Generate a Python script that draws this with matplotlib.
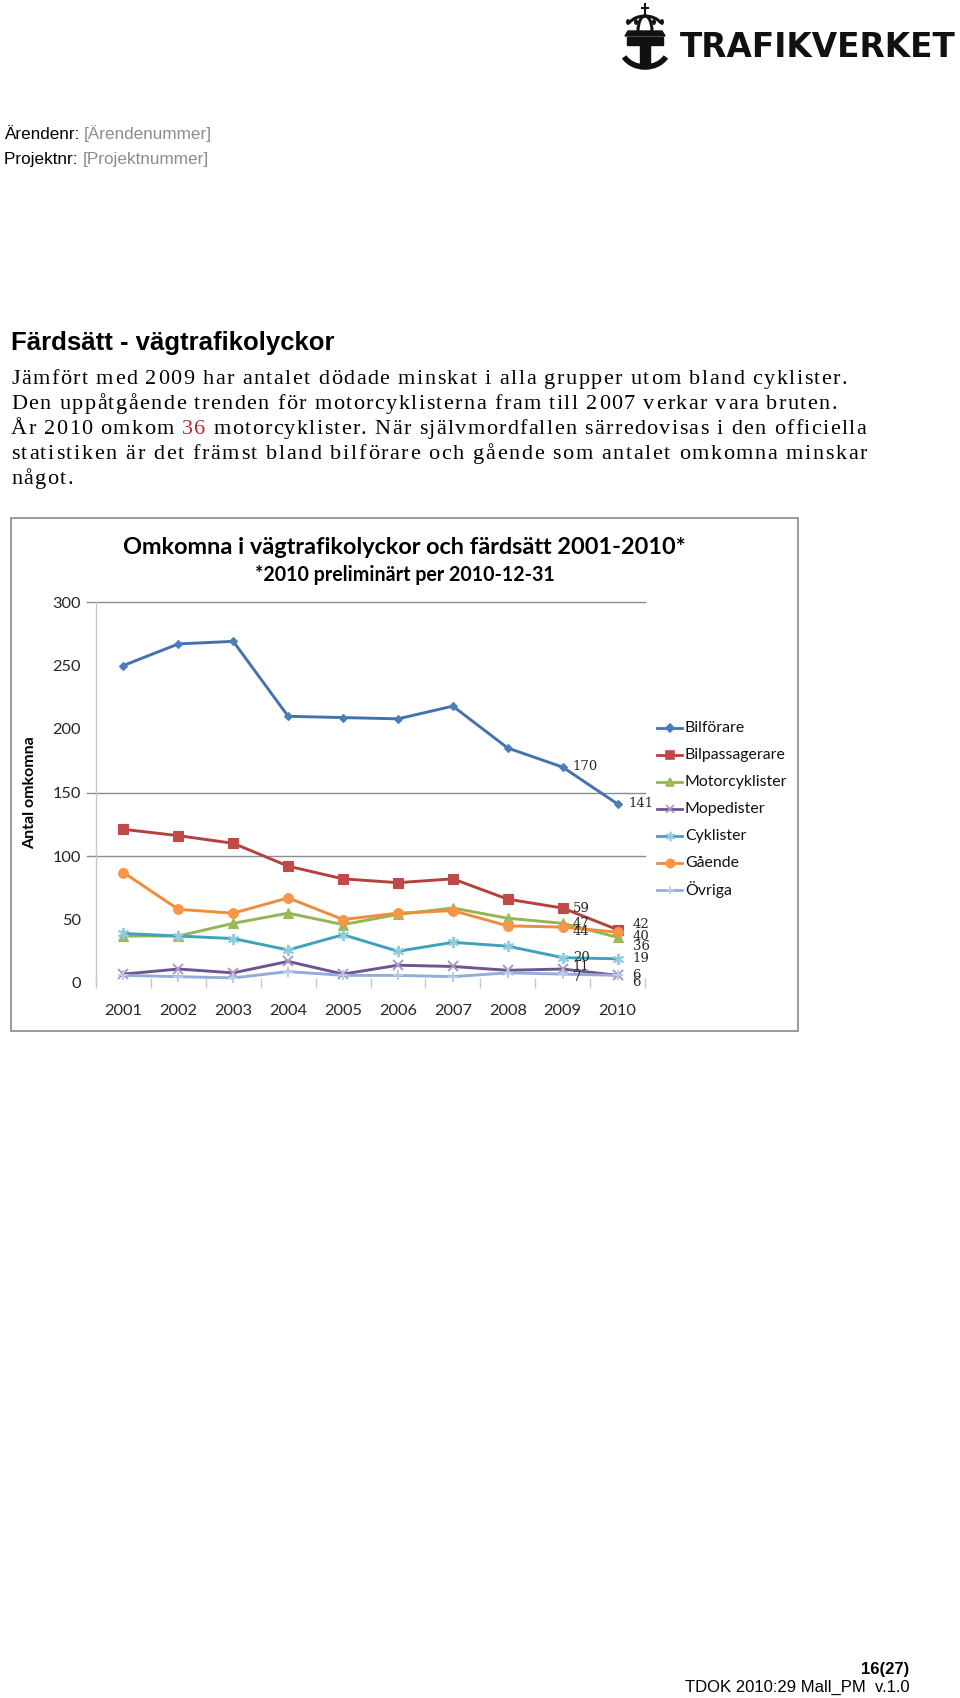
import matplotlib
matplotlib.use("Agg")
import matplotlib.pyplot as plt
from matplotlib.lines import Line2D
from matplotlib.patches import Rectangle, Arc, Polygon, Circle

# ---------------- data ----------------
years = [2001, 2002, 2003, 2004, 2005, 2006, 2007, 2008, 2009, 2010]
series_names = ["Bilförare", "Bilpassagerare", "Motorcyklister", "Mopedister",
                "Cyklister", "Gående", "Övriga"]
bilforare      = [250, 267, 269, 210, 209, 208, 218, 185, 170, 141]
bilpassagerare = [121, 116, 110, 92, 82, 79, 82, 66, 59, 42]
motorcyklister = [37, 37, 47, 55, 46, 54, 59, 51, 47, 36]
mopedister     = [7, 11, 8, 17, 7, 14, 13, 10, 11, 6]
cyklister      = [39, 37, 35, 26, 38, 25, 32, 29, 20, 19]
gaende         = [87, 58, 55, 67, 50, 55, 57, 45, 44, 40]
ovriga         = [6, 5, 4, 9, 6, 6, 5, 8, 7, 6]
yticks = [0, 50, 100, 150, 200, 250, 300]
grid_values = [100, 150, 300]

all_series = [bilforare, bilpassagerare, motorcyklister, mopedister,
              cyklister, gaende, ovriga]

# ---------------- styles ----------------
line_colors = ["#4372AC", "#B5403D", "#93B553", "#6E5491", "#3FA2BC", "#F08C3C", "#94ACD8"]
marker_face = ["#4A7EBB", "#BE4B48", "#9BBB59", "#A897C6", "#93CDDD", "#F79646", "#B9CBE8"]
markers = ["D", "s", "^", "x", (6, 2, 0), "o", "+"]
msizes = [4.5, 7, 7, 7, 8, 7, 7]

W, H = 960, 1698
fig = plt.figure(figsize=(W / 100, H / 100), dpi=100)
fig.patch.set_facecolor("white")
renderer = fig.canvas.get_renderer()


def fx(x):
    return x / W


def fy(y):
    return 1 - y / H


def text_width(t):
    return t.get_window_extent(renderer).width


_adv_cache = {}


def advance(s, fs, **kw):
    key = (s, fs, tuple(sorted(kw.items())))
    if key not in _adv_cache:
        p1 = fig.text(0, 0, s + "x", fontsize=fs, **kw)
        p2 = fig.text(0, 0, "x", fontsize=fs, **kw)
        _adv_cache[key] = text_width(p1) - text_width(p2)
        p1.remove()
        p2.remove()
    return _adv_cache[key]


def fit_text(x, y, s, width, size=12, **kw):
    t = fig.text(fx(x), fy(y), s, fontsize=size, va="baseline", **kw)
    t.set_fontsize(size * width / text_width(t))
    return t


def seg_text(x, y, segs, width, size=12, **kw):
    """draw a line made of coloured segments, total width fitted."""
    full = "".join(s for s, c in segs)
    probe = fig.text(fx(x), fy(y), full, fontsize=size, va="baseline", **kw)
    fs = size * width / text_width(probe)
    probe.remove()
    cx = x
    for s, c in segs:
        fig.text(fx(cx), fy(y), s, fontsize=fs, va="baseline", color=c, **kw)
        cx += advance(s, fs, **kw)


def tracked_text(x, y, segs, width, fs, **kw):
    """draw characters one by one with letter spacing so the line spans width."""
    chars = [(ch, c) for s, c in segs for ch in s]
    advs = [advance(ch, fs, **kw) for ch, c in chars]
    last = fig.text(0, 0, chars[-1][0], fontsize=fs, **kw)
    natural = sum(advs[:-1]) + text_width(last)
    last.remove()
    extra = (width - natural) / max(len(chars) - 1, 1)
    extra = max(extra, 0)
    cx = x
    for (ch, c), a in zip(chars, advs):
        if ch != " ":
            fig.text(fx(cx), fy(y), ch, fontsize=fs, va="baseline", color=c, **kw)
        cx += a + extra


# ---------------- header ----------------
sans = "Liberation Sans"
seg_text(4, 139, [("Ärendenr: ", "black"), ("[Ärendenummer]", "#8C8C8C")], 208, family=sans)
seg_text(4, 164, [("Projektnr: ", "black"), ("[Projektnummer]", "#8C8C8C")], 204, family=sans)

# logo
fit_text(680, 57, "TRAFIKVERKET", 275, family="DejaVu Sans", weight="bold", color="#111111")
lw_logo = 4
fig.add_artist(Arc((fx(645), fy(47)), fx(48), 40 / H, theta1=195, theta2=345,
                   lw=lw_logo, color="#111111"))
fig.add_artist(Rectangle((fx(627), fy(45)), fx(36), 8 / H, color="#111111"))
fig.add_artist(Rectangle((fx(640), fy(66)), fx(10), 21 / H, color="#111111"))
fig.add_artist(Polygon([(fx(625), fy(36)), (fx(665), fy(36)), (fx(662), fy(31)),
                        (fx(628), fy(31))], closed=True, color="#111111"))
for cxp in (628, 636, 654, 662):
    fig.add_artist(Circle((fx(cxp), fy(22)), 2.2 / H, color="#111111"))
fig.add_artist(Arc((fx(645), fy(31)), fx(38), 30 / H, theta1=15, theta2=165,
                   lw=2.2, color="#111111"))
fig.add_artist(Arc((fx(645), fy(31)), fx(14), 30 / H, theta1=0, theta2=180,
                   lw=2.2, color="#111111"))
fig.add_artist(Line2D([fx(645), fx(645)], [fy(4), fy(14)], lw=1.5, color="#111111"))
fig.add_artist(Line2D([fx(642), fx(648)], [fy(8), fy(8)], lw=1.5, color="#111111"))

# ---------------- section text ----------------
fit_text(11, 350, "Färdsätt - vägtrafikolyckor", 322, family=sans, weight="bold")
serif = "Liberation Serif"
body = [
    ([("Jämfört med 2009 har antalet dödade minskat i alla grupper utom bland cyklister.", "black")], 836),
    ([("Den uppåtgående trenden för motorcyklisterna fram till 2007 verkar vara bruten.", "black")], 826),
    ([("År 2010 omkom ", "black"), ("36", "#C0272D"),
      (" motorcyklister. När självmordfallen särredovisas i den officiella", "black")], 855),
    ([("statistiken är det främst bland bilförare och gående som antalet omkomna minskar", "black")], 856),
    ([("något.", "black")], 62),
]
base = 384
for i, (segs, wdt) in enumerate(body):
    tracked_text(11, base + i * 25, segs, wdt, 16, family=serif)

# ---------------- chart frame ----------------
fig.add_artist(Rectangle((fx(11), fy(1031)), fx(787), (1031 - 518) / H,
                         fill=False, edgecolor="#8A8A8A", lw=1.2))
cal = "Lato"
fit_text(403 - 280, 554, "Omkomna i vägtrafikolyckor och färdsätt 2001-2010*", 560,
         family=cal, weight="bold")
fit_text(403 - 148, 581, "*2010 preliminärt per 2010-12-31", 297, family=cal, weight="bold")

# ---------------- axes ----------------
ax = fig.add_axes([fx(96), fy(983), fx(645 - 96), (983 - 602) / H])
ax.set_xlim(2000.5, 2010.5)
ax.set_ylim(0, 300)
for sp in ["top", "right", "bottom"]:
    ax.spines[sp].set_visible(False)
ax.spines["left"].set_color("#C8C8C8")
ax.spines["left"].set_linewidth(1.0)

for gv in grid_values:
    ax.plot([-0.016, 1.0], [gv, gv], transform=ax.get_yaxis_transform(),
            color="#8C8C8C", lw=1.0, clip_on=False, zorder=1)

ax.set_yticks(yticks)
ax.set_yticklabels([str(v) for v in yticks])
ax.tick_params(axis="y", length=0, pad=11, labelsize=11.8, labelcolor="#262626")
for lab in ax.get_yticklabels():
    lab.set_family(cal)
ax.set_xticks(years)
ax.set_xticklabels([str(y) for y in years])
ax.tick_params(axis="x", length=0, pad=15, labelsize=11.8, labelcolor="#262626")
for lab in ax.get_xticklabels():
    lab.set_family(cal)
ax.set_xticks([y + 0.5 for y in [2000] + years], minor=True)
ax.tick_params(axis="x", which="minor", length=7, direction="inout", color="#C8C8C8", width=1)
ax.set_ylabel("Antal omkomna", family=cal, weight="bold", fontsize=11.5)
ax.yaxis.set_label_coords(fx(37 - 96) / fx(645 - 96), 0.5)

for vals, lc, mf, mk, ms in zip(all_series, line_colors, marker_face, markers, msizes):
    thin = mk in ("x", "+") or isinstance(mk, tuple)
    ax.plot(years, vals, color=lc, lw=2.1, marker=mk, markersize=ms,
            markerfacecolor=mf, markeredgecolor=mf, markeredgewidth=1.4 if thin else 0.8,
            zorder=3, clip_on=False)

# data labels for last two years (pixel offsets)
label_offsets_2009 = [(10, 1), (10, 0), (10, 0), (10, 3), (10, 0), (10, -4), (10, -3)]
label_offsets_2010 = [(11, 0), (15, 5), (15, -9), (15, -7), (15, 0), (15, -4), (15, 0)]
for vals, o9, o10 in zip(all_series, label_offsets_2009, label_offsets_2010):
    ax.annotate(str(vals[-2]), (years[-2], vals[-2]), xytext=o9, textcoords="offset pixels",
                ha="left", va="center", fontsize=9.5, family="DejaVu Serif", color="#262626",
                annotation_clip=False)
    ax.annotate(str(vals[-1]), (years[-1], vals[-1]), xytext=o10, textcoords="offset pixels",
                ha="left", va="center", fontsize=9.5, family="DejaVu Serif", color="#262626",
                annotation_clip=False)

# ---------------- legend (manual) ----------------
leg_y0, leg_dy = 728, 27
for i, name in enumerate(series_names):
    y = leg_y0 + i * leg_dy
    fig.add_artist(Line2D([fx(657), fx(682)], [fy(y), fy(y)], color=line_colors[i], lw=2.0))
    fig.add_artist(Line2D([fx(669.5)], [fy(y)], color=line_colors[i], lw=0,
                          marker=markers[i], markersize=msizes[i] * 0.85,
                          markerfacecolor=marker_face[i], markeredgecolor=marker_face[i],
                          markeredgewidth=1.2))
    fig.text(fx(685), fy(y), name, fontsize=11.4, family=cal, va="center", ha="left",
             color="#111111")

# ---------------- footer ----------------
fig.text(fx(909), fy(1674), "16(27)", fontsize=12, family=sans, weight="bold",
         ha="right", va="baseline")
fig.text(fx(910), fy(1692), "TDOK 2010:29 Mall_PM  v.1.0", fontsize=12, family=sans,
         ha="right", va="baseline")

fig.savefig("out.png", dpi=100, facecolor="white")
